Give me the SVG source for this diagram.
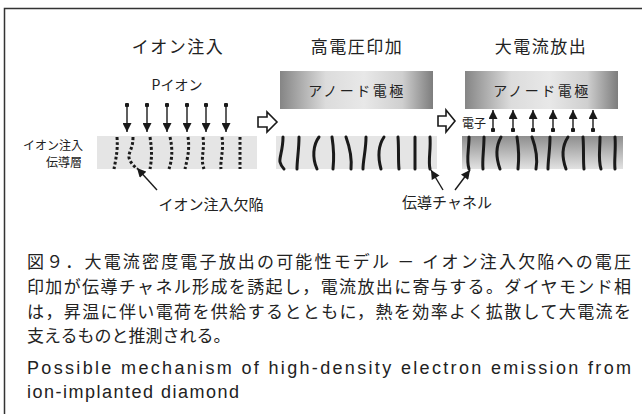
<svg xmlns="http://www.w3.org/2000/svg" width="642" height="414" viewBox="0 0 642 414">
  <style>
    .jp { font-family: "Noto Sans CJK JP", "Liberation Sans", sans-serif; fill: #222; }
    .en { font-family: "Liberation Sans", Arial, sans-serif; fill: #222; }
    .title { font-size: 17px; letter-spacing: 1.5px; text-anchor: middle; }
    .lbl { font-size: 14px; text-anchor: middle; }
    .cap { font-size: 17px; }
    .dotted { fill: none; stroke: #1a1a1a; stroke-width: 3; stroke-dasharray: 2.8 2.2; }
    .chan { fill: none; stroke: #1a1a1a; stroke-width: 3; stroke-linecap: round; }
    .shaft { fill: none; stroke: #1a1a1a; stroke-width: 1.4; }
    .hollow { fill: #fff; stroke: #1a1a1a; stroke-width: 1.6; stroke-linejoin: miter; }
  </style>
  <defs>
    <linearGradient id="anodeGrad" x1="0" y1="0" x2="1" y2="0">
      <stop offset="0" stop-color="#858585"/>
      <stop offset="0.3" stop-color="#dcdcdc"/>
      <stop offset="0.55" stop-color="#e8e8e8"/>
      <stop offset="0.8" stop-color="#cfcfcf"/>
      <stop offset="1" stop-color="#7d7d7d"/>
    </linearGradient>
    <linearGradient id="hotLayer" x1="0" y1="0" x2="0" y2="1">
      <stop offset="0" stop-color="#8e8e8e"/>
      <stop offset="1" stop-color="#e2e2e2"/>
    </linearGradient>
    <marker id="head" viewBox="0 0 10 10" refX="10" refY="5" markerWidth="10" markerHeight="9" markerUnits="userSpaceOnUse" orient="auto">
      <path d="M0 0 L10 5 L0 10 Z" fill="#1a1a1a"/>
    </marker>
    <marker id="dot" viewBox="0 0 6 6" refX="3" refY="3" markerWidth="4.5" markerHeight="4.5" markerUnits="userSpaceOnUse">
      <circle cx="3" cy="3" r="3" fill="#1a1a1a"/>
    </marker>
  </defs>

  <!-- frame -->
  <path d="M4.5 414 V8.5 H642" fill="none" stroke="#333" stroke-width="1.5"/>

  <!-- stage titles -->
  <g id="titles">
    <text class="jp title" x="178" y="53">イオン注入</text>
    <text class="jp title" x="357" y="53">高電圧印加</text>
    <text class="jp title" x="541" y="53">大電流放出</text>
  </g>

  <!-- stage 1: ion implantation -->
  <g id="stage-implant">
    <text class="jp lbl" x="177" y="90">Pイオン</text>
    <rect x="97" y="136" width="160" height="33" fill="#e5e5e5"/>
    <path class="dotted" d="M117 137 C118 150 116 158 114 169"/>
    <path class="dotted" d="M133 137 C133 147 130 150 129 155 C128 160 133 165 137 169"/>
    <path class="dotted" d="M150 137 C152 150 152 158 150 169"/>
    <path class="dotted" d="M170 137 C173 150 172 160 169 169"/>
    <path class="dotted" d="M188 137 C190 150 187 160 185 169"/>
    <path class="dotted" d="M203 137 C205 150 200 158 204 169"/>
    <path class="dotted" d="M222 137 C224 150 220 160 221 169"/>
    <path class="dotted" d="M240 137 L240 169"/>
    <text class="jp" x="83" y="150" font-size="12" text-anchor="end">イオン注入</text>
    <text class="jp" x="82" y="167" font-size="12" text-anchor="end">伝導層</text>
  </g>

  <!-- stage 2: high voltage applied -->
  <g id="stage-voltage">
    <rect x="280" y="71" width="153" height="38" fill="url(#anodeGrad)"/>
    <text class="jp" x="357" y="96" font-size="14" letter-spacing="2.5" text-anchor="middle">アノード電極</text>
    <rect x="276" y="136" width="161" height="33" fill="#e5e5e5"/>
    <path class="chan" d="M283 137 C283 150 279 158 280 162 C281 166 283 168 284 169"/>
    <path class="chan" d="M299 137 C299 150 297 160 297 169"/>
    <path class="chan" d="M319 137 C313 145 312 158 317 169"/>
    <path class="chan" d="M332 137 C334 150 334 160 333 169"/>
    <path class="chan" d="M346 137 C350 148 352 158 351 169"/>
    <path class="chan" d="M366 137 C366 150 363 160 363 169"/>
    <path class="chan" d="M384 137 C378 146 378 158 381 169"/>
    <path class="chan" d="M398 137 C399 150 398 160 399 169"/>
    <path class="chan" d="M415 137 C415 150 415 160 415 169"/>
    <path class="chan" d="M430 137 C431 150 428 160 430 169"/>
  </g>

  <!-- stage 3: high-current emission -->
  <g id="stage-emission">
    <rect x="465" y="71" width="153" height="38" fill="url(#anodeGrad)"/>
    <text class="jp" x="542" y="96" font-size="14" letter-spacing="2.5" text-anchor="middle">アノード電極</text>
    <text class="jp" x="462" y="128" font-size="12">電子</text>
    <rect x="462" y="136" width="161" height="33" fill="url(#hotLayer)"/>
    <path class="chan" d="M469 137 C469 150 466 160 469 169"/>
    <path class="chan" d="M484 137 C484 150 482 160 483 169"/>
    <path class="chan" d="M501 137 C496 146 496 158 500 169"/>
    <path class="chan" d="M517 137 C519 150 519 160 518 169"/>
    <path class="chan" d="M532 137 C536 148 538 158 536 169"/>
    <path class="chan" d="M550 137 C550 150 548 160 548 169"/>
    <path class="chan" d="M568 137 C562 146 562 158 566 169"/>
    <path class="chan" d="M583 137 C584 150 583 160 584 169"/>
    <path class="chan" d="M600 137 C600 150 598 160 601 169"/>
    <path class="chan" d="M615 137 C616 150 614 160 615 169"/>
  </g>

  <!-- labels under the layers -->
  <g id="defect-label">
    <text class="jp" x="211" y="210" font-size="15" text-anchor="middle">イオン注入欠陥</text>
  </g>
  <g id="channel-label">
    <text class="jp" x="447" y="208" font-size="15" text-anchor="middle">伝導チャネル</text>
  </g>

  <!-- connectors -->
  <g id="connectors">
    <!-- P ions falling -->
    <path class="shaft" d="M127 105 V132" marker-start="url(#dot)" marker-end="url(#head)"/>
    <path class="shaft" d="M147 105 V132" marker-start="url(#dot)" marker-end="url(#head)"/>
    <path class="shaft" d="M167 105 V132" marker-start="url(#dot)" marker-end="url(#head)"/>
    <path class="shaft" d="M187 105 V132" marker-start="url(#dot)" marker-end="url(#head)"/>
    <path class="shaft" d="M206 105 V132" marker-start="url(#dot)" marker-end="url(#head)"/>
    <path class="shaft" d="M226 105 V132" marker-start="url(#dot)" marker-end="url(#head)"/>
    <!-- emitted electrons -->
    <path class="shaft" d="M493 130 V110" marker-start="url(#dot)" marker-end="url(#head)"/>
    <path class="shaft" d="M513 130 V110" marker-start="url(#dot)" marker-end="url(#head)"/>
    <path class="shaft" d="M533 130 V110" marker-start="url(#dot)" marker-end="url(#head)"/>
    <path class="shaft" d="M553 130 V110" marker-start="url(#dot)" marker-end="url(#head)"/>
    <path class="shaft" d="M573 130 V110" marker-start="url(#dot)" marker-end="url(#head)"/>
    <path class="shaft" d="M593 130 V110" marker-start="url(#dot)" marker-end="url(#head)"/>
    <!-- pointers -->
    <path class="shaft" stroke-width="1.6" d="M157 190 L137 168" marker-end="url(#head)"/>
    <path class="shaft" stroke-width="1.6" d="M443 190 L431 170" marker-end="url(#head)"/>
    <path class="shaft" stroke-width="1.6" d="M455 190 L470 170" marker-end="url(#head)"/>
    <!-- stage transitions -->
    <path class="hollow" d="M258 117 H267 V112 L277 122 L267 132 V127 H258 Z"/>
    <path class="hollow" d="M438 116 H446 V110 L455 121 L446 132 V126 H438 Z"/>
  </g>

  <!-- caption -->
  <g id="caption">
    <text class="jp cap" x="27" y="268" textLength="604" lengthAdjust="spacing">図９．大電流密度電子放出の可能性モデル － イオン注入欠陥への電圧</text>
    <text class="jp cap" x="27" y="293" textLength="604" lengthAdjust="spacing">印加が伝導チャネル形成を誘起し，電流放出に寄与する。ダイヤモンド相</text>
    <text class="jp cap" x="27" y="318" textLength="604" lengthAdjust="spacing">は，昇温に伴い電荷を供給するとともに，熱を効率よく拡散して大電流を</text>
    <text class="jp cap" x="27" y="342">支えるものと推測される。</text>
    <text class="en" x="27" y="374" font-size="18" textLength="604" lengthAdjust="spacing">Possible mechanism of high-density electron emission from</text>
    <text class="en" x="27" y="398" font-size="18" letter-spacing="1.5">ion-implanted diamond</text>
  </g>
</svg>
